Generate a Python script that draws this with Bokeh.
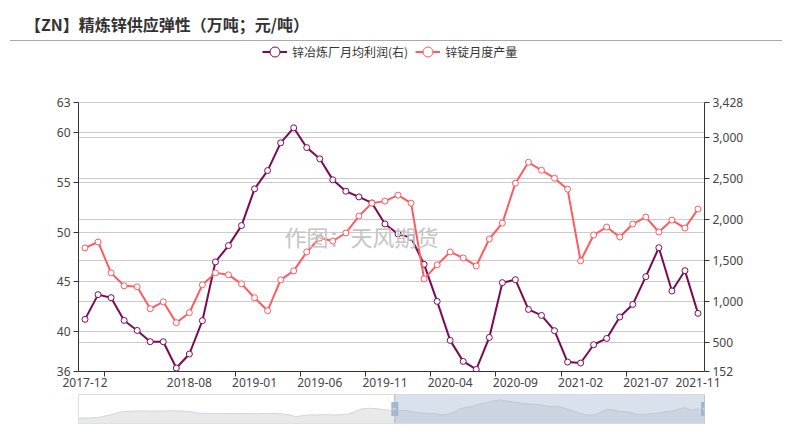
from bokeh.plotting import figure
from bokeh.layouts import column
from bokeh.models import (Range1d, LinearAxis, FixedTicker, NumeralTickFormatter, Grid,
                          Label, Span, BoxAnnotation, ColumnDataSource, Div)
from bokeh.embed import file_html
from bokeh.resources import INLINE

# ---------------- data ----------------
months = ["2017-12", "2018-01", "2018-02", "2018-03", "2018-04", "2018-05", "2018-06", "2018-07",
          "2018-08", "2018-09", "2018-10", "2018-11", "2018-12", "2019-01", "2019-02", "2019-03",
          "2019-04", "2019-05", "2019-06", "2019-07", "2019-08", "2019-09", "2019-10", "2019-11",
          "2019-12", "2020-01", "2020-02", "2020-03", "2020-04", "2020-05", "2020-06", "2020-07",
          "2020-08", "2020-09", "2020-10", "2020-11", "2020-12", "2021-01", "2021-02", "2021-03",
          "2021-04", "2021-05", "2021-06", "2021-07", "2021-08", "2021-09", "2021-10", "2021-11"]

# 锌冶炼厂月均利润 (元/吨, right axis)
profit = [787, 1088, 1051, 774, 652, 515, 515, 194, 365, 771, 1486, 1685, 1929, 2376, 2599, 2937,
          3120, 2879, 2742, 2486, 2347, 2278, 2205, 1949, 1827, 1782, 1457, 1006, 531, 275, 177, 567,
          1234, 1270, 908, 835, 649, 267, 255, 478, 555, 816, 969, 1307, 1660, 1133, 1380, 860]

# 锌锭月度产量 (万吨, left axis)
output = [48.4, 49.0, 45.9, 44.6, 44.5, 42.3, 43.0, 40.9, 41.9, 44.7, 45.9, 45.7, 44.8, 43.4, 42.1, 45.2,
          46.1, 48.0, 49.4, 49.1, 49.9, 51.6, 52.9, 53.1, 53.7, 52.9, 45.3, 46.7, 48.0, 47.4, 46.6, 49.3,
          50.9, 54.9, 57.0, 56.2, 55.4, 54.3, 47.1, 49.7, 50.5, 49.5, 50.8, 51.5, 50.0, 51.2, 50.4, 52.3]

# earlier profit months (2013-12 .. 2017-11), only visible in the zoom-bar shadow
profit_hist = [-350, -380, -330, -250, 0, 300, 650, 900, 950, 980, 1000, 950, 1000, 980, 1050, 1000,
               950, 900, 600, 550, 500, 520, 480, 500, 450, 500, 480, 450, 500, 520, 480, 400,
               250, -150, 100, 250, 200, 300, 250, 200, 300, 400, 900, 1400, 1500, 1450, 1300, 1150]

label_months = ["2017-12", "2018-08", "2019-01", "2019-06", "2019-11", "2020-04", "2020-09",
                "2021-02", "2021-07", "2021-11"]
tick_months = ["2018-02", "2018-12", "2019-05", "2019-10", "2020-03", "2020-08", "2021-01", "2021-06"]
left_ticks = [36, 40, 45, 50, 55, 60, 63]
right_ticks = [152, 500, 1000, 1500, 2000, 2500, 3000, 3428]
left_min, left_max = 36, 63
right_min, right_max = 152, 3428

TITLE = "【ZN】精炼锌供应弹性（万吨；元/吨）"
NAME_PROFIT = "锌冶炼厂月均利润(右)"
NAME_OUTPUT = "锌锭月度产量"
WATERMARK = "作图：天风期货"

PURPLE = "#7A0A55"
RED = "#FD5B60"
CJK = "Noto Sans CJK SC"
NUMF = "Noto Sans"
GRID = "#cccccc"
TXT = "#444444"

idx = list(range(len(months)))
src = ColumnDataSource(dict(idx=idx, month=months, profit=profit, output=output))

W = 791
BL, BR = 78, 87          # left / right borders shared by chart and zoom bar
HEAD_H = 42              # title strip height
MAIN_H = 350
FRAME_TOP = 44           # window y of frame top (legend lives inside the frame)
PLOT_TOP = 102           # window y of the value-axis maximum
PLOT_BOT = 371           # window y of the value-axis minimum

# ---------------- title strip ----------------
head = Div(text=(
    '<div style="margin-left:10px;width:772px;height:41px;border-bottom:1px solid #aaaaaa;">'
    '<div style="padding-left:15px;line-height:48px;font-family:\'Noto Sans CJK SC\';'
    'font-size:16px;font-weight:bold;color:#333333;white-space:nowrap;">'
    + TITLE + '</div></div>'), width=W, height=HEAD_H, margin=0)

# ---------------- main chart ----------------
frac = (PLOT_BOT - FRAME_TOP) / (PLOT_BOT - PLOT_TOP)
p = figure(width=W, height=MAIN_H, x_range=Range1d(-0.5, len(months) - 0.5),
           y_range=Range1d(left_min, left_min + (left_max - left_min) * frac),
           toolbar_location=None, output_backend="svg",
           min_border_left=BL, min_border_right=BR,
           min_border_top=FRAME_TOP - HEAD_H, min_border_bottom=HEAD_H + MAIN_H - PLOT_BOT)
p.extra_y_ranges = {"right": Range1d(right_min, right_min + (right_max - right_min) * frac)}
p.outline_line_color = None
p.background_fill_color = "white"

label_idx = [months.index(m) for m in label_months]
tick_bounds = [months.index(m) - 0.5 for m in tick_months]
xax = p.xaxis[0]
xax.ticker = FixedTicker(ticks=label_idx, minor_ticks=tick_bounds)
xax.major_label_overrides = {i: months[i] for i in label_idx}
xax.major_tick_out = 0
xax.major_tick_in = 0
xax.minor_tick_out = 5
xax.minor_tick_in = 0
xax.minor_tick_line_color = "#333333"
xax.axis_line_color = "#333333"
xax.major_label_standoff = 1
xax.major_label_text_font = NUMF
xax.major_label_text_font_size = "12px"
xax.major_label_text_color = TXT
p.xgrid.visible = False

lticker = FixedTicker(ticks=left_ticks)
yax = p.yaxis[0]
yax.ticker = lticker
yax.bounds = (left_min, left_max)
yax.major_tick_out = 5
yax.major_tick_in = 0
yax.minor_tick_out = 0
yax.minor_tick_in = 0
yax.axis_line_color = "#333333"
yax.major_tick_line_color = "#333333"
yax.major_label_standoff = 3
yax.major_label_text_font = NUMF
yax.major_label_text_font_size = "12px"
yax.major_label_text_color = TXT
p.ygrid.ticker = lticker
p.ygrid.grid_line_color = GRID

rticker = FixedTicker(ticks=right_ticks)
rax = LinearAxis(y_range_name="right", ticker=rticker, formatter=NumeralTickFormatter(format="0,0"),
                 bounds=(right_min, right_max))
rax.major_tick_out = 5
rax.major_tick_in = 0
rax.minor_tick_out = 0
rax.minor_tick_in = 0
rax.axis_line_color = "#333333"
rax.major_tick_line_color = "#333333"
rax.major_label_standoff = 3
rax.major_label_text_font = NUMF
rax.major_label_text_font_size = "12px"
rax.major_label_text_color = TXT
p.add_layout(rax, "right")
p.add_layout(Grid(dimension=1, y_range_name="right", ticker=rticker, grid_line_color=GRID))

p.add_layout(Label(x=21.2, y=49.6, text=WATERMARK, text_font=CJK, text_font_size="22px",
                   text_color="#c4c4c4", text_align="center", text_baseline="middle"))

p.line("idx", "profit", source=src, y_range_name="right", line_color=PURPLE, line_width=2,
       legend_label=NAME_PROFIT)
p.scatter("idx", "profit", source=src, y_range_name="right", marker="circle", size=6,
          fill_color="white", line_color=PURPLE, line_width=1, legend_label=NAME_PROFIT)
p.line("idx", "output", source=src, line_color=RED, line_width=2, legend_label=NAME_OUTPUT)
p.scatter("idx", "output", source=src, marker="circle", size=6,
          fill_color="white", line_color=RED, line_width=1, legend_label=NAME_OUTPUT)

lg = p.legend[0]
lg.orientation = "horizontal"
lg.location = (184, 307)
lg.padding = 0
lg.margin = 0
lg.spacing = 7
lg.glyph_width = 25
lg.glyph_height = 25
lg.label_standoff = 5
lg.border_line_color = None
lg.background_fill_alpha = 0
lg.label_text_font = CJK
lg.label_text_font_size = "12px"
lg.label_text_color = "#333333"

# ---------------- zoom bar ----------------
all_profit = profit_hist + profit
all_idx = list(range(len(all_profit)))
lo_v, hi_v = min(all_profit), max(all_profit)
pad = (hi_v - lo_v) * 0.3
lo, hi = lo_v - pad, hi_v + pad
start = len(profit_hist)
end = len(all_profit) - 1

sl = figure(width=W, height=429 - HEAD_H - MAIN_H, x_range=Range1d(0, end), y_range=Range1d(lo, hi),
            toolbar_location=None, output_backend="svg",
            min_border_left=BL, min_border_right=BR, min_border_top=2, min_border_bottom=6,
            x_axis_type=None, y_axis_type=None)
sl.outline_line_color = "#dddddd"
sl.varea(x=all_idx, y1=lo, y2=all_profit, fill_color="#e8e9eb")
sl.line(all_idx, all_profit, line_color="#d3d5d9", line_width=1)
sl.add_layout(BoxAnnotation(left=start, right=end, fill_color="#a0b4d0", fill_alpha=0.4,
                            line_color=None))
for xv in (start, end):
    sl.add_layout(Span(location=xv, dimension="height", line_color="#a7b7cc", line_width=1))
sl.rect(x=[start, end], y=[(lo + hi) / 2] * 2, width=7, height=14, width_units="screen",
        height_units="screen", fill_color="#a7b7cc", line_color=None)
sl.rect(x=[start, end, start, end], y=[(lo + hi) / 2] * 4, width=3, height=1,
        width_units="screen", height_units="screen", fill_color="white", line_color=None)

layout = column(head, p, sl, spacing=0)
open("out.html", "w").write(file_html(layout, INLINE))
